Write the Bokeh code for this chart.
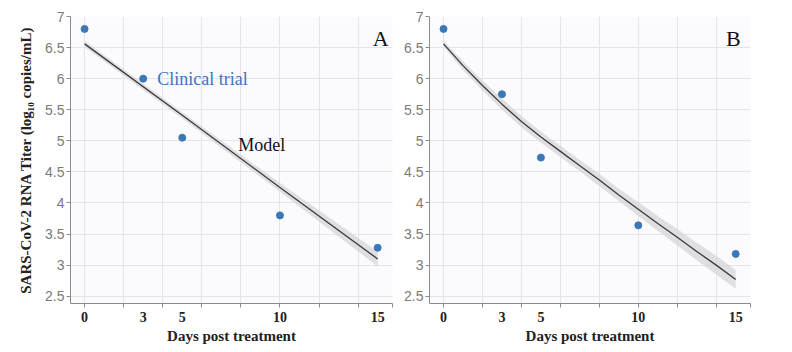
from bokeh.plotting import figure
from bokeh.layouts import row
from bokeh.models import FixedTicker, NumeralTickFormatter
from bokeh.core.properties import value
from bokeh.embed import file_html
from bokeh.resources import INLINE

# ---- data ----
days = [0, 3, 5, 10, 15]
trial_a = [6.80, 6.00, 5.05, 3.80, 3.28]
trial_b = [6.80, 5.75, 4.73, 3.64, 3.18]

model_a_x = [0, 5, 10, 15]
model_a_y = [6.56, 5.41, 4.25, 3.10]
model_a_lo = [6.51, 5.36, 4.18, 2.98]
model_a_hi = [6.61, 5.46, 4.32, 3.22]

model_b_x = [0, 1, 2, 3, 4, 5, 6, 7, 8, 9, 10, 11, 12, 13, 14, 15]
model_b_y = [6.56, 6.21, 5.89, 5.59, 5.31, 5.06, 4.83, 4.60, 4.37, 4.13, 3.90, 3.67, 3.45, 3.22, 3.00, 2.77]
model_b_lo = [6.51, 6.14, 5.81, 5.50, 5.22, 4.97, 4.74, 4.51, 4.27, 4.03, 3.79, 3.55, 3.32, 3.08, 2.85, 2.62]
model_b_hi = [6.61, 6.28, 5.97, 5.68, 5.40, 5.15, 4.92, 4.69, 4.47, 4.23, 4.01, 3.79, 3.58, 3.36, 3.15, 2.92]

x_tick_labels = [0, 3, 5, 10, 15]
x_grid = [0, 2, 4, 6, 8, 10, 12, 14]
y_ticks = [2.5, 3, 3.5, 4, 4.5, 5, 5.5, 6, 6.5, 7]

PT_COLOR = "#3b78b8"
SERIF = "Liberation Serif"
SANS = "Liberation Sans"


def make_panel(width, left, right, trial, mx, my, mlo, mhi, letter, letter_x, ytitle):
    p = figure(width=width, height=352, x_range=(-0.72, 15.76), y_range=(2.383, 7.0),
               output_backend="svg", toolbar_location=None,
               min_border_left=left, min_border_right=right, min_border_top=16, min_border_bottom=49)
    p.background_fill_color = "#fbfbfd"
    p.border_fill_color = "white"
    p.outline_line_color = None

    p.xaxis.ticker = FixedTicker(ticks=x_tick_labels, minor_ticks=x_grid + [15.76])
    p.xgrid.ticker = FixedTicker(ticks=x_grid)
    p.yaxis.ticker = FixedTicker(ticks=y_ticks)
    p.yaxis.formatter = NumeralTickFormatter(format="0.[0]")
    p.grid.grid_line_color = "#e4e4ea"
    p.grid.grid_line_width = 1

    for ax in (p.xaxis, p.yaxis):
        ax.axis_line_color = "#8a8a8a"
        ax.major_tick_line_color = "#8a8a8a"
        ax.minor_tick_line_color = "#8a8a8a"

    p.xaxis.major_tick_out = 0
    p.xaxis.major_tick_in = 0
    p.xaxis.minor_tick_out = 4
    p.xaxis.minor_tick_in = 0
    p.xaxis.major_label_standoff = 4
    p.xaxis.major_label_text_font = SERIF
    p.xaxis.major_label_text_font_style = "bold"
    p.xaxis.major_label_text_font_size = "14px"
    p.xaxis.major_label_text_color = "#222222"
    p.xaxis.axis_label = "Days post treatment"
    p.xaxis.axis_label_text_font = SERIF
    p.xaxis.axis_label_text_font_style = "bold"
    p.xaxis.axis_label_text_font_size = "15px"
    p.xaxis.axis_label_text_color = "#222222"
    p.xaxis.axis_label_standoff = 3

    p.yaxis.major_tick_out = 4
    p.yaxis.major_tick_in = 0
    p.yaxis.minor_tick_out = 0
    p.yaxis.major_label_standoff = 2
    p.yaxis.major_label_text_font = SANS
    p.yaxis.major_label_text_font_size = "14px"
    p.yaxis.major_label_text_color = "#7a7a7a"
    if ytitle:
        p.yaxis.axis_label = ytitle
        p.yaxis.axis_label_text_font = SERIF
        p.yaxis.axis_label_text_font_style = "bold"
        p.yaxis.axis_label_text_font_size = "15px"
        p.yaxis.axis_label_text_color = "#222222"
        p.yaxis.axis_label_standoff = 8

    p.varea(x=mx, y1=mlo, y2=mhi, fill_color="#d6d6d8", fill_alpha=0.75)
    p.line(x=mx, y=my, line_color="#3a3a3a", line_width=1.3)
    p.scatter(x=days, y=trial, size=7, fill_color=PT_COLOR, line_color=PT_COLOR)

    p.text(x=[letter_x], y=[6.65], text=[letter], text_font=value(SERIF),
           text_font_size="22px", text_align="center", text_baseline="alphabetic",
           text_color="#111111")
    return p


pA = make_panel(400, 70, 8, trial_a, model_a_x, model_a_y, model_a_lo, model_a_hi,
                "A", 15.15, "SARS-CoV-2 RNA Titer (log\u2081\u2080 copies/mL)")
pA.text(x=[3.72], y=[5.99], text=["Clinical trial"], text_font=value(SERIF),
        text_font_size="18px", text_align="left", text_baseline="alphabetic",
        text_color="#3f72c4")
pA.text(x=[7.86], y=[4.935], text=["Model"], text_font=value(SERIF),
        text_font_size="18px", text_align="left", text_baseline="alphabetic",
        text_color="#111111")

pB = make_panel(392, 29, 42, trial_b, model_b_x, model_b_y, model_b_lo, model_b_hi,
                "B", 14.88, None)

layout = row(pA, pB)
open("out.html", "w").write(file_html(layout, INLINE))
